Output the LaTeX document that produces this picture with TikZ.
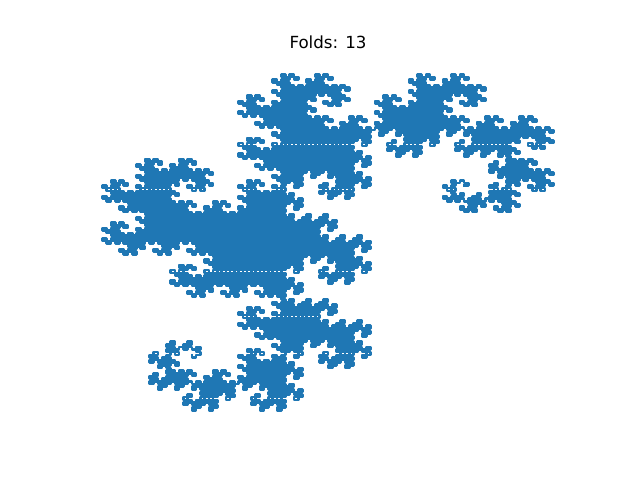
\documentclass[tikz,border=0pt]{standalone}
\usepackage{fontspec}
\setmainfont{DejaVu Sans}
\definecolor{dragonblue}{HTML}{1F77B4}
\newcount\dgx \newcount\dgy \newcount\dgdx \newcount\dgdy
\newcount\dgn \newcount\dgk \newcount\dgt
\newcount\dgminx \newcount\dgmaxx \newcount\dgminy \newcount\dgmaxy
\newdimen\dgsx \newdimen\dgsy \newdimen\dgqx \newdimen\dgqy
\def\dgstrip{\ifodd\dgk\else\divide\dgk by 2 \expandafter\dgstrip\fi}
% parameters: initial direction and turn sense
\def\dgstartdx{1}\def\dgstartdy{0}\def\dgsense{-1}
\def\dgturn{%
  \dgk=\dgn \dgstrip \divide\dgk by 2
  \dgt=\dgdx
  \ifodd\dgk
    \dgdx=\numexpr-\dgsense*\dgdy\relax \dgdy=\numexpr\dgsense*\dgt\relax
  \else
    \dgdx=\numexpr\dgsense*\dgdy\relax \dgdy=\numexpr-\dgsense*\dgt\relax
  \fi}
\def\dginit{\dgx=0 \dgy=0 \dgdx=\dgstartdx\relax \dgdy=\dgstartdy\relax \dgn=0 }
\def\dgstep{\advance\dgx by \dgdx \advance\dgy by \dgdy \advance\dgn by 1 }
\def\dgbounds{%
  \dginit \dgminx=0 \dgmaxx=0 \dgminy=0 \dgmaxy=0
  \loop
    \dgstep
    \ifnum\dgx<\dgminx \dgminx=\dgx\fi
    \ifnum\dgx>\dgmaxx \dgmaxx=\dgx\fi
    \ifnum\dgy<\dgminy \dgminy=\dgy\fi
    \ifnum\dgy>\dgmaxy \dgmaxy=\dgy\fi
    \ifnum\dgn<8192 \dgturn
  \repeat}
\def\dgpoint{%
  \dgqx=\dgsx \multiply\dgqx by \numexpr\dgx-\dgminx\relax \advance\dgqx by 102.5pt
  \dgqy=\dgsy \multiply\dgqy by \numexpr\dgy-\dgminy\relax \advance\dgqy by 69.6pt }
\def\dgpath{%
  \dginit \dgpoint \pgfpathmoveto{\pgfqpoint{\dgqx}{\dgqy}}%
  \loop
    \dgstep \dgpoint \pgfpathlineto{\pgfqpoint{\dgqx}{\dgqy}}%
    \ifnum\dgn<8192 \dgturn
  \repeat}
\begin{document}
\begin{tikzpicture}[x=1pt,y=1pt]
\useasboundingbox (0,0) rectangle (640,480);
\fill[white] (0,0) rectangle (640,480);
\node[anchor=base,inner sep=0pt,font=\fontsize{16.67}{20}\selectfont] (title) at (328,431) {Folds: 13};
\begin{scope}[draw=dragonblue,color=dragonblue]
\dgbounds
\dgsx=451pt \divide\dgsx by \numexpr\dgmaxx-\dgminx\relax
\dgsy=336pt \divide\dgsy by \numexpr\dgmaxy-\dgminy\relax
\pgfsetlinewidth{2.6pt}\pgfsetroundjoin\pgfsetrectcap
\pgfsetstrokecolor{dragonblue}
\dgpath
\pgfusepath{stroke}
\end{scope}
\end{tikzpicture}
\end{document}
